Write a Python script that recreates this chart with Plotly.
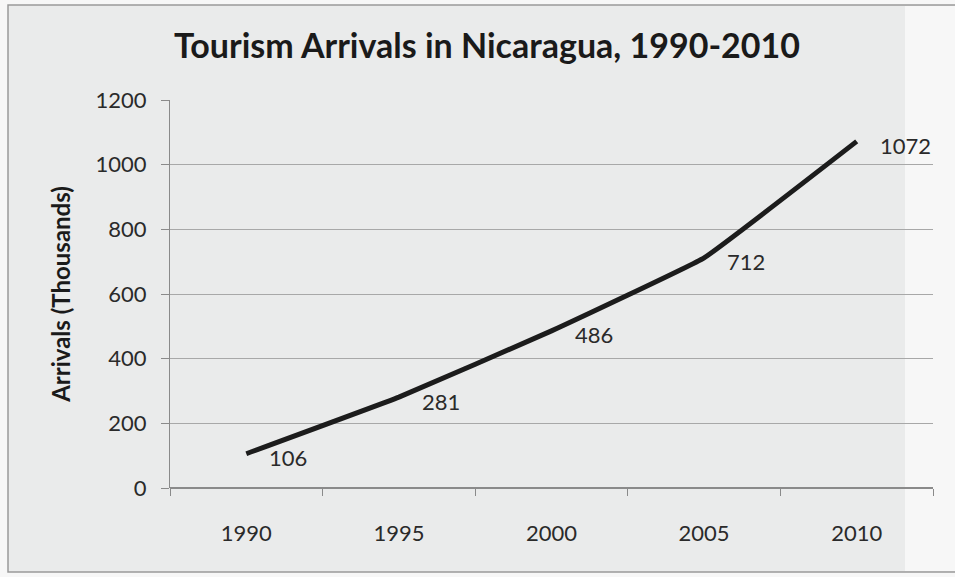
import plotly.graph_objects as go

years = ["1990", "1995", "2000", "2005", "2010"]
arrivals = [106, 281, 486, 712, 1072]
y_ticks = [0, 200, 400, 600, 800, 1000, 1200]

W, H = 955, 577
ML, MR, MT, MB = 170, 22, 100, 89
PW, PH = W - ML - MR, H - MT - MB
FONT = "Lato, 'Open Sans', sans-serif"


def px_x(p):
    return (p - ML) / PW


def px_y(p):
    return 1 - (p - MT) / PH


fig = go.Figure()

fig.add_trace(go.Scatter(
    x=years, y=arrivals, mode="lines",
    line=dict(color="#1c1c1c", width=5, shape="spline", smoothing=0.25),
    hoverinfo="skip", showlegend=False,
))

# value labels to the right of each point (category index positions)
for i, v in enumerate(arrivals):
    fig.add_annotation(
        x=i, y=v, xref="x", yref="y", text=str(v), showarrow=False,
        xanchor="left", yanchor="middle", xshift=21, yshift=-4,
        font=dict(family=FONT, size=22, color="#2a2a2a"),
    )

# card background with its border, plus the lighter strip at the right edge
fig.add_shape(type="rect", xref="paper", yref="paper", layer="below",
              x0=px_x(8), x1=px_x(960), y0=px_y(572), y1=px_y(5),
              fillcolor="#eaebeb", line=dict(color="#9a9a9a", width=1.5))
fig.add_shape(type="rect", xref="paper", yref="paper", layer="below",
              x0=px_x(905), x1=px_x(960), y0=px_y(571), y1=px_y(6),
              fillcolor="#f7f7f7", line=dict(width=0))

fig.update_layout(
    width=W, height=H,
    margin=dict(l=ML, r=MR, t=MT, b=MB),
    paper_bgcolor="#f7f7f7",
    plot_bgcolor="rgba(0,0,0,0)",
    title=dict(
        text="<b>Tourism Arrivals in Nicaragua, 1990-2010</b>",
        x=487 / W, xanchor="center", y=1 - 46 / H, yanchor="middle",
        font=dict(family=FONT, size=34, color="#1a1a1a"),
    ),
    xaxis=dict(
        type="category", range=[-0.5, len(years) - 0.5],
        tickson="boundaries", ticks="outside", ticklen=7, tickcolor="#8a8a8a",
        showline=False, showgrid=False, zeroline=False,
        tickfont=dict(family=FONT, size=22, color="#2a2a2a"),
        ticklabelstandoff=30,
    ),
    yaxis=dict(
        range=[0, 1200], tickvals=y_ticks,
        showgrid=True, gridcolor="#a8a8a8", gridwidth=1,
        showline=True, linecolor="#8a8a8a", linewidth=1,
        zeroline=True, zerolinecolor="#8a8a8a", zerolinewidth=1.5,
        ticks="outside", ticklen=8, tickcolor="#8a8a8a",
        tickfont=dict(family=FONT, size=22, color="#2a2a2a"),
        ticklabelstandoff=10,
        title=dict(text="<b>Arrivals (Thousands)</b>", standoff=18,
                   font=dict(family=FONT, size=24, color="#1a1a1a")),
    ),
)

fig.write_html("out.html")
